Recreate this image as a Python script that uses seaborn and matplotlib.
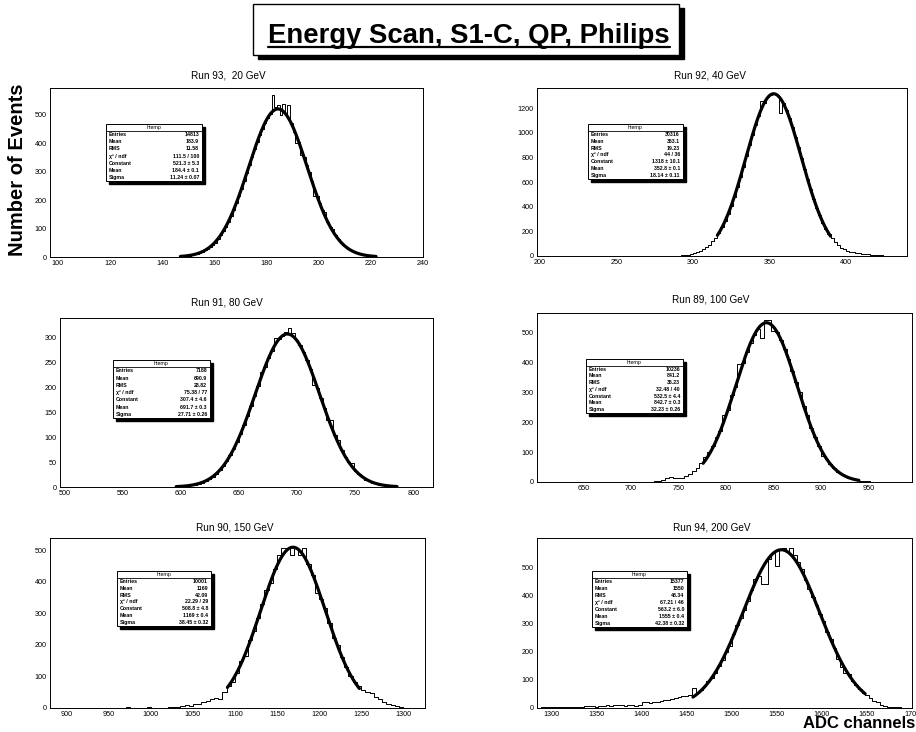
import numpy as np
import pandas as pd
import matplotlib
matplotlib.use("Agg")
import matplotlib.pyplot as plt
import seaborn as sns
from matplotlib.ticker import AutoMinorLocator
from matplotlib.patches import Rectangle
from matplotlib.lines import Line2D

# ---------------- data ----------------
run_titles = ["Run 93,  20 GeV", "Run 92, 40 GeV", "Run 91, 80 GeV",
              "Run 89, 100 GeV", "Run 90, 150 GeV", "Run 94, 200 GeV"]

bin_starts = [146, 240, 497, 600, 880, 1284]
bin_widths = [1, 2, 3, 4, 5, 4]

counts_run93 = [1, 2, 3, 4, 5, 7, 9, 11, 15, 19,
                23, 29, 36, 44, 48, 64, 77, 91, 107, 124,
                144, 166, 189, 214, 240, 267, 295, 324, 352, 379,
                405, 429, 452, 472, 489, 503, 570, 528, 535, 500,
                540, 500, 535, 472, 440, 400, 405, 360, 352, 324,
                300, 267, 215, 214, 189, 166, 160, 124, 107, 100,
                77, 64, 53, 44, 36, 29, 23, 20, 15, 11,
                9, 7, 5, 4, 3, 2, 1, 1, 1, 0]

counts_run92 = [0, 0, 1, 0, 0, 0, 0, 0, 1, 0,
                0, 0, 0, 1, 1, 2, 1, 1, 2, 2,
                1, 2, 3, 2, 3, 4, 5, 6, 11, 15,
                22, 30, 41, 54, 71, 93, 119, 150, 188, 232,
                283, 342, 407, 479, 557, 640, 726, 814, 902, 987,
                1066, 1139, 1260, 1240, 1289, 1312, 1318, 1308, 1165, 1243,
                1190, 1125, 1051, 970, 884, 797, 709, 623, 541, 465,
                394, 330, 272, 223, 180, 144, 113, 88, 68, 54,
                42, 34, 29, 25, 22, 20, 17, 14, 11, 9,
                7, 5, 4, 3, 2, 1, 1, 0, 0, 0]

counts_run91 = [0, 0, 0, 0, 0, 0, 0, 0, 0, 0,
                0, 0, 0, 0, 0, 0, 0, 0, 0, 0,
                0, 0, 0, 0, 0, 0, 1, 0, 1, 0, 1,
                0, 1, 1, 1, 2, 3, 4, 5, 7, 9,
                12, 16, 21, 27, 34, 42, 52, 64, 77, 91,
                107, 125, 143, 163, 183, 203, 232, 242, 259, 274,
                300, 297, 304, 312, 320, 310, 295, 285, 272, 256,
                238, 205, 199, 179, 159, 135, 135, 104, 95, 74,
                61, 50, 48, 32, 26, 20, 15, 12, 9, 7,
                5, 4, 3, 2, 1, 1, 1, 0, 0, 0, 0, 0, 0, 0, 0]

counts_run89 = [0, 0, 0, 0, 0, 0, 0, 0, 1, 0,
                0, 0, 0, 0, 0, 0, 0, 0, 0, 1,
                0, 0, 0, 0, 1, 0, 0, 1, 0, 1,
                1, 2, 3, 6, 12, 17, 15, 13, 15, 20,
                28, 38, 48, 62, 82, 100, 120, 150, 170, 225,
                240, 290, 318, 395, 397, 433, 466, 493, 513, 482,
                540, 540, 505, 501, 476, 445, 410, 372, 335, 300,
                253, 225, 181, 150, 122, 88, 77, 60, 46, 35,
                26, 19, 14, 10, 7, 5, 3, 2, 1, 1,
                0, 1, 0, 0, 0, 0, 0, 1, 0]

counts_run90 = [0, 0, 0, 0, 0, 0, 0, 0, 0, 0,
                0, 0, 0, 0, 0, 0, 0, 1,
                2, 0, 0, 1, 0, 2, 1, 0, 0, 1,
                2, 3, 4, 7, 9, 5, 12, 14, 18, 22,
                28, 32, 28, 52, 70, 82, 110, 150, 165, 215,
                245, 284, 330, 375, 395, 440, 485, 505, 505, 485,
                505, 485, 505, 455, 420, 365, 345, 318, 268, 222,
                200, 160, 130, 100, 82, 70, 58, 52, 48, 36,
                28, 20, 12, 8, 5, 3, 1, 0, 0, 0, 0]

counts_run94 = [1, 2, 3, 5, 4, 3, 2, 3, 4, 3, 5, 3, 4, 6, 7, 6,
                5, 8, 7, 9, 8, 10, 12, 9, 8,
                10, 9, 8, 12, 20, 22, 18,
                20, 22, 25, 28, 30, 33, 36, 40, 42, 44,
                46, 70, 52, 65, 78, 95, 105, 125, 150, 170,
                200, 220, 265, 295, 320, 350, 380, 420, 460, 470,
                440, 440, 530, 550, 505, 565, 570, 555, 570, 545,
                520, 495, 455, 425, 395, 365, 335, 310, 270, 245,
                215, 175, 145, 125, 120, 95, 82, 66, 55, 45,
                35, 26, 20, 12, 8, 5, 4, 2, 2, 1, 0, 1]

all_counts = [counts_run93, counts_run92, counts_run91,
              counts_run89, counts_run90, counts_run94]

fit_const = [521.3, 1318.0, 307.4, 532.5, 508.8, 563.2]
fit_mean = [184.4, 352.8, 691.7, 842.7, 1169.0, 1555.0]
fit_sigma = [11.24, 18.14, 27.71, 32.23, 38.45, 42.38]
fit_lo = [147, 316, 596, 776, 1091, 1457]
fit_hi = [222, 390, 786, 940, 1248, 1648]

stat_entries = ["14813", "30316", "7188", "10236", "10001", "15377"]
stat_mean = ["183.9", "353.1", "690.9", "841.2", "1169", "1550"]
stat_rms = ["11.58", "19.23", "28.82", "35.23", "42.09", "48.34"]
stat_chi2 = ["111.5 / 100", "44 / 36", "75.38 / 77", "32.48 / 40", "22.29 / 29", "67.21 / 46"]
stat_const = ["521.3 \u00b1 5.3", "1318 \u00b1 10.1", "307.4 \u00b1 4.6",
              "532.5 \u00b1 4.4", "508.8 \u00b1 4.8", "563.2 \u00b1 6.0"]
stat_fmean = ["184.4 \u00b1 0.1", "352.8 \u00b1 0.1", "691.7 \u00b1 0.3",
              "842.7 \u00b1 0.3", "1169 \u00b1 0.4", "1555 \u00b1 0.4"]
stat_sigma = ["11.24 \u00b1 0.07", "18.14 \u00b1 0.11", "27.71 \u00b1 0.26",
              "32.23 \u00b1 0.26", "38.45 \u00b1 0.32", "42.38 \u00b1 0.32"]
stat_labels = ["Entries", "Mean", "RMS", "\u03c7\u00b2 / ndf", "Constant", "Mean", "Sigma"]

x_ticks = [[100, 120, 140, 160, 180, 200, 220, 240],
           [200, 250, 300, 350, 400],
           [500, 550, 600, 650, 700, 750, 800],
           [650, 700, 750, 800, 850, 900, 950],
           [900, 950, 1000, 1050, 1100, 1150, 1200, 1250, 1300],
           [1300, 1350, 1400, 1450, 1500, 1550, 1600, 1650, 1700]]
y_ticks = [[0, 100, 200, 300, 400, 500],
           [0, 200, 400, 600, 800, 1000, 1200],
           [0, 50, 100, 150, 200, 250, 300],
           [0, 100, 200, 300, 400, 500],
           [0, 100, 200, 300, 400, 500],
           [0, 100, 200, 300, 400, 500]]

# ---------------- layout ----------------
W, H = 916, 732
axes_px = [(50, 423, 88, 257), (537, 907, 88, 256),
           (60, 433, 318, 487), (537, 912, 313, 482),
           (50, 425, 538, 708), (537, 912, 538, 708)]
x_lims = [(97, 240), (198, 440), (496, 817), (601, 996), (880, 1326), (1284, 1700)]
y_lims = [(0, 595), (0, 1365), (0, 339.5), (0, 565), (0, 538), (0, 605)]
title_px = [(228, 75), (710, 75), (227, 303), (711, 300), (235, 528), (712, 527)]
box_px = [(106, 202, 124, 181), (588, 683, 124, 179),
          (113, 210, 360, 418), (586, 683, 359, 413),
          (117, 211, 571, 626), (592, 687, 571, 627)]

sns.set_style("white")
plt.rcParams["font.family"] = ["Liberation Sans", "DejaVu Sans"]
plt.rcParams["text.color"] = "black"
plt.rcParams["xtick.color"] = "black"
plt.rcParams["ytick.color"] = "black"
plt.rcParams["axes.labelcolor"] = "black"

fig = plt.figure(figsize=(W / 100, H / 100), dpi=100)
fig.patch.set_facecolor("white")


def fx(px):
    return px / W


def fy(py):
    return 1 - py / H


for i in range(6):
    l, r, t, b = axes_px[i]
    ax = fig.add_axes([fx(l), fy(b), fx(r) - fx(l), fy(t) - fy(b)])
    cnt = all_counts[i]
    n = len(cnt)
    lo_edge = bin_starts[i]
    hi_edge = bin_starts[i] + bin_widths[i] * n
    centers = lo_edge + bin_widths[i] * (np.arange(n) + 0.5)
    df = pd.DataFrame({"adc": centers, "events": np.asarray(cnt, dtype=float)})
    sns.histplot(data=df, x="adc", weights="events", binwidth=bin_widths[i],
                 binrange=(lo_edge, hi_edge), element="step",
                 fill=False, color="black", linewidth=0.7, ax=ax)
    xs = np.linspace(fit_lo[i], fit_hi[i], 400)
    ys = fit_const[i] * np.exp(-0.5 * ((xs - fit_mean[i]) / fit_sigma[i]) ** 2)
    sns.lineplot(x=xs, y=ys, ax=ax, color="black", linewidth=2.3)

    ax.set_xlim(*x_lims[i])
    ax.set_ylim(*y_lims[i])
    ax.set_xlabel("")
    ax.set_ylabel("")
    ax.set_xticks(x_ticks[i])
    ax.set_yticks(y_ticks[i])
    ax.xaxis.set_minor_locator(AutoMinorLocator(5))
    ax.yaxis.set_minor_locator(AutoMinorLocator(5))
    ax.tick_params(axis="both", which="major", direction="in", length=5, width=0.6,
                   labelsize=5.2, pad=2.5, top=False, right=False, colors="black")
    ax.tick_params(axis="both", which="minor", direction="in", length=2.5, width=0.5,
                   top=False, right=False)
    for s in ax.spines.values():
        s.set_color("black")
        s.set_linewidth(0.7)

    tx, ty = title_px[i]
    fig.text(fx(tx), fy(ty), run_titles[i], ha="center", va="center", fontsize=7.2,
             color="black")

    # stats box
    bl, br, bt, bb = box_px[i]
    sh = 3
    fig.patches.append(Rectangle((fx(bl + sh), fy(bb + sh)), fx(br) - fx(bl), fy(bt) - fy(bb),
                                 transform=fig.transFigure, facecolor="black",
                                 edgecolor="black", zorder=5))
    fig.patches.append(Rectangle((fx(bl), fy(bb)), fx(br) - fx(bl), fy(bt) - fy(bb),
                                 transform=fig.transFigure, facecolor="white",
                                 edgecolor="black", linewidth=0.7, zorder=6))
    rowh = (bb - bt) / 8.0
    fig.text(fx((bl + br) / 2), fy(bt + rowh / 2), "htemp", ha="center", va="center",
             fontsize=3.8, zorder=7, color="black")
    fig.lines.append(Line2D([fx(bl), fx(br)], [fy(bt + rowh), fy(bt + rowh)],
                            transform=fig.transFigure, color="black", linewidth=0.6, zorder=7))
    vals = [stat_entries[i], stat_mean[i], stat_rms[i], stat_chi2[i],
            stat_const[i], stat_fmean[i], stat_sigma[i]]
    for j, (lab, val) in enumerate(zip(stat_labels, vals)):
        yy = bt + rowh * (j + 1.5)
        fig.text(fx(bl + 3), fy(yy), lab, ha="left", va="center", fontsize=3.8,
                 fontweight="bold", zorder=7, color="black")
        fig.text(fx(br - 3), fy(yy), val, ha="right", va="center", fontsize=3.8,
                 fontweight="bold", zorder=7, color="black")

# main title with shadowed box
tb_l, tb_r, tb_t, tb_b = 253, 679, 4, 55
fig.patches.append(Rectangle((fx(tb_l + 5), fy(tb_b + 4)), fx(tb_r) - fx(tb_l), fy(tb_t) - fy(tb_b),
                             transform=fig.transFigure, facecolor="black", edgecolor="black", zorder=5))
fig.patches.append(Rectangle((fx(tb_l), fy(tb_b)), fx(tb_r) - fx(tb_l), fy(tb_t) - fy(tb_b),
                             transform=fig.transFigure, facecolor="white", edgecolor="black",
                             linewidth=1.0, zorder=6))
ttl = fig.text(fx(469), fy(43), "Energy Scan, S1-C, QP, Philips", ha="center", va="baseline",
               fontsize=19.8, fontweight="bold", zorder=7, color="black")
fig.canvas.draw()
bbx = ttl.get_window_extent()
fig.lines.append(Line2D([bbx.x0 / W, bbx.x1 / W], [fy(46.5), fy(46.5)], transform=fig.transFigure,
                        color="black", linewidth=1.6, zorder=7))

fig.text(fx(18), fy(170), "Number of Events", rotation=90, ha="center", va="center",
         fontsize=14.5, fontweight="bold", color="black")
fig.text(fx(915), fy(724), "ADC channels", ha="right", va="center", fontsize=12,
         fontweight="bold", color="black")

fig.savefig("out.png", dpi=100, facecolor="white")
